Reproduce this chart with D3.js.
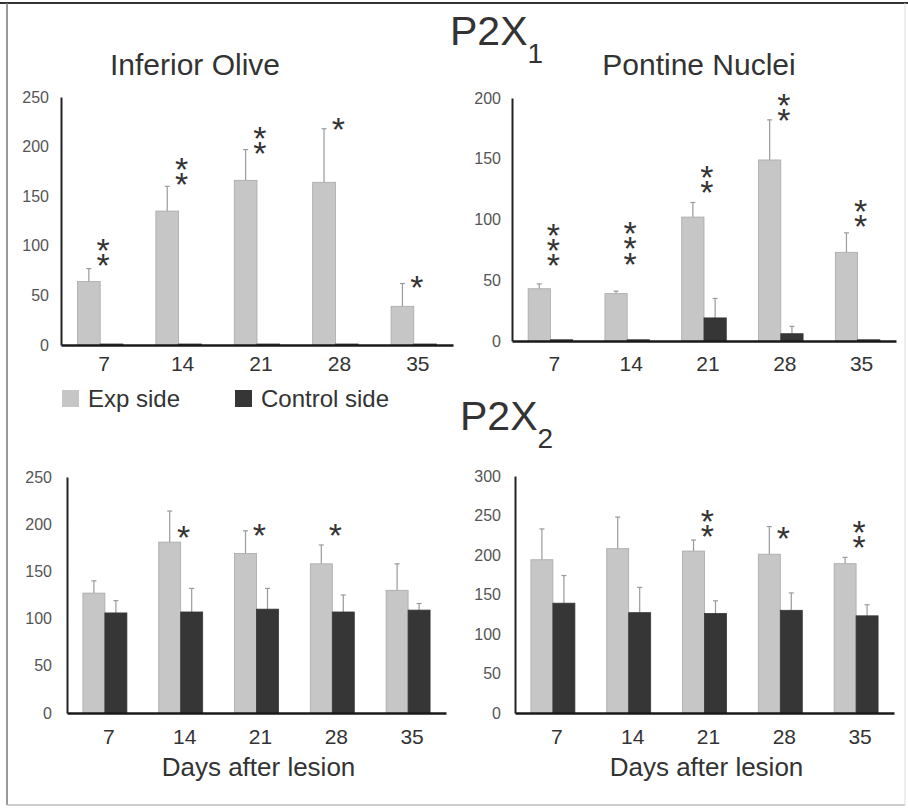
<!DOCTYPE html>
<html>
<head>
<meta charset="utf-8">
<script src="https://cdn.jsdelivr.net/npm/d3@7"></script>
<style>
  body { margin: 0; background: #fff; }
  svg { display: block; font-family: "Liberation Sans", Arial, sans-serif; }
</style>
</head>
<body>
<div id="chart"></div>
<script>
var days = ["7", "14", "21", "28", "35"];
var sides = ["Exp side", "Control side"];

// P2X1, inferior olive
var ioP2x1Exp = [64, 135, 166, 164, 39];
var ioP2x1ExpErr = [13, 25, 31, 54, 23];
var ioP2x1Ctl = [1, 1, 1, 1, 1];
var ioP2x1CtlErr = [0, 0, 0, 0, 0];
var ioP2x1Stars = [2, 2, 2, 1, 1];
var ioP2x1StarAt = [88, 170, 201, 225, 66];

// P2X1, pontine nuclei
var pnP2x1Exp = [43, 39, 102, 149, 73];
var pnP2x1ExpErr = [4, 2, 12, 33, 16];
var pnP2x1Ctl = [1, 1, 19, 6, 1];
var pnP2x1CtlErr = [0, 0, 16, 6, 0];
var pnP2x1Stars = [3, 3, 2, 2, 2];
var pnP2x1StarAt = [69, 70, 129, 188, 101];

// P2X2, inferior olive
var ioP2x2Exp = [127, 181, 169, 158, 130];
var ioP2x2ExpErr = [13, 33, 24, 20, 28];
var ioP2x2Ctl = [106, 107, 110, 107, 109];
var ioP2x2CtlErr = [13, 25, 22, 18, 7];
var ioP2x2Stars = [0, 1, 1, 1, 0];
var ioP2x2StarAt = [0, 194, 197, 197, 0];

// P2X2, pontine nuclei
var pnP2x2Exp = [194, 208, 205, 201, 189];
var pnP2x2ExpErr = [39, 40, 14, 35, 8];
var pnP2x2Ctl = [139, 127, 126, 130, 123];
var pnP2x2CtlErr = [35, 32, 16, 22, 14];
var pnP2x2Stars = [0, 0, 2, 1, 2];
var pnP2x2StarAt = [0, 0, 234, 231, 220];

var yTicksIO = [0, 50, 100, 150, 200, 250];
var yTicksPN1 = [0, 50, 100, 150, 200];
var yTicksPN2 = [0, 50, 100, 150, 200, 250, 300];

var width = 908, height = 808;
var expColor = "#c6c6c6", ctlColor = "#363636";

var svg = d3.select("#chart").append("svg")
  .attr("width", width)
  .attr("height", height);

// frame
svg.append("line").attr("x1", 0).attr("x2", width).attr("y1", 3).attr("y2", 3)
  .attr("stroke", "#333").attr("stroke-width", 2);
svg.append("line").attr("x1", 7).attr("x2", 7).attr("y1", 3).attr("y2", 805)
  .attr("stroke", "#777").attr("stroke-width", 1.5);
svg.append("line").attr("x1", 7).attr("x2", 905).attr("y1", 805).attr("y2", 805)
  .attr("stroke", "#bbb").attr("stroke-width", 1.5);
svg.append("line").attr("x1", 905).attr("x2", 905).attr("y1", 3).attr("y2", 805)
  .attr("stroke", "#ddd").attr("stroke-width", 1);

var panels = [
  {exp: ioP2x1Exp, expErr: ioP2x1ExpErr, ctl: ioP2x1Ctl, ctlErr: ioP2x1CtlErr,
   stars: ioP2x1Stars, starAt: ioP2x1StarAt, ticks: yTicksIO,
   x0: 61, x1: 453, y0: 345, y1: 97, pad: 11, tickPad: 12},
  {exp: pnP2x1Exp, expErr: pnP2x1ExpErr, ctl: pnP2x1Ctl, ctlErr: pnP2x1CtlErr,
   stars: pnP2x1Stars, starAt: pnP2x1StarAt, ticks: yTicksPN1,
   x0: 512, x1: 896, y0: 341, y1: 98, pad: 15, tickPad: 11},
  {exp: ioP2x2Exp, expErr: ioP2x2ExpErr, ctl: ioP2x2Ctl, ctlErr: ioP2x2CtlErr,
   stars: ioP2x2Stars, starAt: ioP2x2StarAt, ticks: yTicksIO,
   x0: 67, x1: 446, y0: 713, y1: 477, pad: 16, tickPad: 15, xLabel: "Days after lesion"},
  {exp: pnP2x2Exp, expErr: pnP2x2ExpErr, ctl: pnP2x2Ctl, ctlErr: pnP2x2CtlErr,
   stars: pnP2x2Stars, starAt: pnP2x2StarAt, ticks: yTicksPN2,
   x0: 515, x1: 894, y0: 713, y1: 476, pad: 16, tickPad: 14, xLabel: "Days after lesion"}
];

panels.forEach(drawPanel);

function drawPanel(p) {
  var g = svg.append("g");

  var x = d3.scaleBand()
    .domain(days)
    .range([p.x0, p.x1])
    .paddingInner(0.42)
    .paddingOuter(0.21);

  var xs = d3.scaleBand()
    .domain(sides)
    .range([0, x.bandwidth()]);

  var y = d3.scaleLinear()
    .domain([0, d3.max(p.ticks)])
    .range([p.y0, p.y1]);

  var rows = days.map(function(d, i) {
    return [
      {day: d, side: sides[0], v: p.exp[i], e: p.expErr[i]},
      {day: d, side: sides[1], v: p.ctl[i], e: p.ctlErr[i]}
    ];
  });
  var flat = d3.merge(rows);
  var withErr = flat.filter(function(d) { return d.e > 0; });
  var cx = function(d) { return x(d.day) + xs(d.side) + xs.bandwidth() / 2; };

  // error whiskers (upper only), drawn behind bars
  g.selectAll("line.err")
    .data(withErr)
    .join("line")
    .attr("class", "err")
    .attr("x1", cx)
    .attr("x2", cx)
    .attr("y1", function(d) { return y(d.v); })
    .attr("y2", function(d) { return y(d.v + d.e); })
    .attr("stroke", "#9a9a9a")
    .attr("stroke-width", 1.2);

  g.selectAll("line.cap")
    .data(withErr)
    .join("line")
    .attr("class", "cap")
    .attr("x1", function(d) { return cx(d) - 2.5; })
    .attr("x2", function(d) { return cx(d) + 2.5; })
    .attr("y1", function(d) { return y(d.v + d.e); })
    .attr("y2", function(d) { return y(d.v + d.e); })
    .attr("stroke", "#9a9a9a")
    .attr("stroke-width", 1.2);

  g.selectAll("rect.bar")
    .data(flat)
    .join("rect")
    .attr("class", "bar")
    .attr("x", function(d) { return x(d.day) + xs(d.side); })
    .attr("y", function(d) { return y(d.v); })
    .attr("width", xs.bandwidth())
    .attr("height", function(d) { return y(0) - y(d.v); })
    .attr("fill", function(d) { return d.side === sides[0] ? expColor : ctlColor; })
    .attr("stroke", function(d) { return d.side === sides[0] ? "#a8a8a8" : ctlColor; })
    .attr("stroke-width", 0.8);

  // axes
  var yAxis = g.append("g")
    .attr("transform", "translate(" + p.x0 + ",0)")
    .call(d3.axisLeft(y).tickValues(p.ticks).tickSize(0).tickPadding(p.tickPad));
  yAxis.select(".domain").attr("stroke", "#222").attr("stroke-width", 2);
  yAxis.selectAll("text")
    .attr("font-size", 16)
    .attr("fill", "#555")
    .attr("font-family", "Liberation Sans, Arial, sans-serif");

  var xAxis = g.append("g")
    .attr("transform", "translate(0," + p.y0 + ")")
    .call(d3.axisBottom(x).tickSize(0).tickPadding(p.pad));
  xAxis.select(".domain").attr("stroke", "#1a1a1a").attr("stroke-width", 2.5);
  xAxis.selectAll("text")
    .attr("font-size", 21)
    .attr("fill", "#333")
    .attr("dx", 4)
    .attr("font-family", "Liberation Sans, Arial, sans-serif");

  // significance asterisks: one text per stack, written upwards
  // (whole text turned -90deg, each glyph turned back +90deg)
  var starSize = 34;
  var stacks = days.map(function(d, i) {
    return {day: d, n: p.stars[i], cy: y(p.starAt[i])};
  }).filter(function(d) { return d.n > 0; });

  g.selectAll("text.star")
    .data(stacks)
    .join("text")
    .attr("class", "star")
    .attr("x", function(d) { return x(d.day) + x.bandwidth() / 2 + 3 - starSize * 0.195; })
    .attr("y", function(d) { return d.cy + starSize * 0.575; })
    .attr("transform", function(d) {
      return "rotate(-90," + (x(d.day) + x.bandwidth() / 2 + 3 - starSize * 0.195) + "," +
        (d.cy + starSize * 0.575) + ")";
    })
    .attr("rotate", 90)
    .attr("letter-spacing", 15 - starSize * 0.389)
    .attr("font-size", starSize)
    .attr("fill", "#333")
    .text(function(d) { return "*".repeat(d.n); });

  if (p.xLabel) {
    g.append("text")
      .attr("x", (p.x0 + p.x1) / 2 + 2)
      .attr("y", p.y0 + 63)
      .attr("text-anchor", "middle")
      .attr("font-size", 26)
      .attr("fill", "#333")
      .text(p.xLabel);
  }
}

// titles
svg.append("text").attr("x", 195).attr("y", 75).attr("text-anchor", "middle")
  .attr("font-size", 30).attr("fill", "#333").text("Inferior Olive");
svg.append("text").attr("x", 699).attr("y", 75).attr("text-anchor", "middle")
  .attr("font-size", 30).attr("fill", "#333").text("Pontine Nuclei");

function receptorTitle(xp, yp, sub) {
  var t = svg.append("text").attr("x", xp).attr("y", yp)
    .attr("font-size", 41).attr("fill", "#333");
  t.append("tspan").text("P2X");
  t.append("tspan").attr("dy", 18).attr("font-size", 28).text(sub);
}
receptorTitle(450, 45, "1");
receptorTitle(460, 430, "2");

// legend
var legend = svg.append("g");
var legendX = [62, 235];
sides.forEach(function(s, i) {
  legend.append("rect")
    .attr("x", legendX[i]).attr("y", 390)
    .attr("width", 17).attr("height", 17)
    .attr("fill", i === 0 ? expColor : ctlColor);
  legend.append("text")
    .attr("x", legendX[i] + 26).attr("y", 407)
    .attr("font-size", 24).attr("fill", "#333")
    .text(s);
});
</script>
</body>
</html>
